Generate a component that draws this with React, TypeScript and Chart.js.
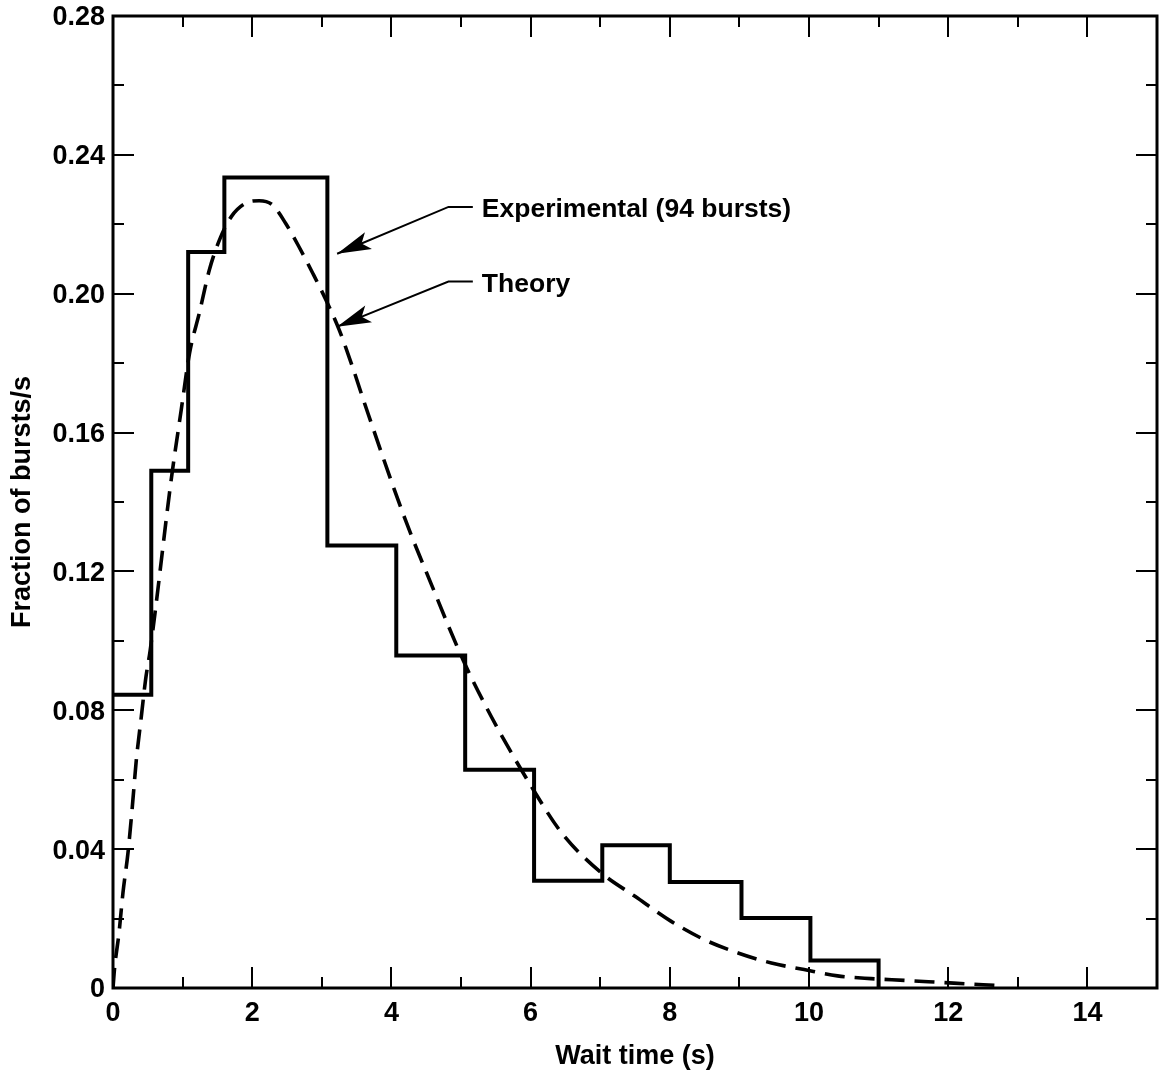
import React, { useEffect, useRef } from "react";
import { Chart, registerables } from "chart.js";

Chart.register(...registerables);

// ---- data ----
const histEdges = [0, 0.55, 1.08, 1.6, 3.08, 4.07, 5.06, 6.05, 7.03, 8.0, 9.03, 10.02, 11.0];
const histValues = [0.0845, 0.149, 0.212, 0.2335, 0.1275, 0.0958, 0.0629, 0.0309, 0.0411, 0.0305, 0.0202, 0.0079];

const theoryX = [0, 0.025, 0.086, 0.143, 0.215, 0.278, 0.335, 0.407, 0.468, 0.535, 0.84, 0.98, 1.1, 1.24, 1.385, 1.53, 1.7, 1.91, 2.1, 2.29, 2.48, 2.67, 2.87, 3.06, 3.25, 3.44, 3.63, 4.2, 4.58, 5.03, 5.44, 6.04, 6.45, 7.02, 7.5, 8.02, 8.5, 8.98, 9.46, 9.93, 10.41, 10.89, 11.37, 12.08, 12.75];
const theoryY = [0, 0.0062, 0.0158, 0.0274, 0.0389, 0.0523, 0.0657, 0.0782, 0.0888, 0.0974, 0.147, 0.1665, 0.1829, 0.1944, 0.2069, 0.2155, 0.2222, 0.2261, 0.2268, 0.2256, 0.2203, 0.2136, 0.2059, 0.1982, 0.1896, 0.179, 0.1675, 0.1349, 0.116, 0.0945, 0.078, 0.0571, 0.0446, 0.0331, 0.0264, 0.0192, 0.0139, 0.0101, 0.0072, 0.0053, 0.0035, 0.0027, 0.0022, 0.0014, 0.0007];

const xMin = 0;
const xMax = 15;
const xStep = 2;
const xMinorStep = 1;
const yMin = 0;
const yMax = 0.28;
const yStep = 0.04;
const yMinorStep = 0.02;

const xTitle = "Wait time (s)";
const yTitle = "Fraction of bursts/s";

// annotations: label, leader start (data coords), arrow tip (data coords)
const annLabels = ["Experimental (94 bursts)", "Theory"];
const annLeaderX = [4.82, 4.82];
const annLeaderEndX = [5.17, 5.17];
const annLeaderY = [0.225, 0.2035];
const annTipX = [3.22, 3.22];
const annTipY = [0.2115, 0.1905];

const FONT = "'Liberation Sans', Arial, Helvetica, sans-serif";

const framePlugin = {
  id: "framePlugin",
  afterDraw(chart: any) {
    const { ctx, chartArea } = chart;
    const xs = chart.scales.x;
    const ys = chart.scales.y;
    const { left, right, top, bottom } = chartArea;
    ctx.save();
    ctx.strokeStyle = "#000";
    ctx.lineCap = "butt";
    // ticks
    ctx.lineWidth = 2;
    const major = 21;
    const minor = 11;
    for (let v = xMin + xMinorStep; v < xMax - 1e-9; v += xMinorStep) {
      const px = Math.round(xs.getPixelForValue(v));
      const isMajor = Math.abs(v / xStep - Math.round(v / xStep)) < 1e-6;
      const len = isMajor ? major : minor;
      ctx.beginPath();
      ctx.moveTo(px, bottom);
      ctx.lineTo(px, bottom - len);
      ctx.moveTo(px, top);
      ctx.lineTo(px, top + len);
      ctx.stroke();
    }
    for (let v = yMin + yMinorStep; v < yMax - 1e-9; v += yMinorStep) {
      const py = Math.round(ys.getPixelForValue(v));
      const isMajor = Math.abs(v / yStep - Math.round(v / yStep)) < 1e-6;
      const len = isMajor ? major : minor;
      ctx.beginPath();
      ctx.moveTo(left, py);
      ctx.lineTo(left + len, py);
      ctx.moveTo(right, py);
      ctx.lineTo(right - len, py);
      ctx.stroke();
    }
    // frame
    ctx.lineWidth = 3;
    ctx.strokeRect(left, top, right - left, bottom - top);

    // annotations
    ctx.fillStyle = "#000";
    ctx.lineWidth = 2;
    for (let i = 0; i < annLabels.length; i++) {
      const sx = xs.getPixelForValue(annLeaderX[i]);
      const ex = xs.getPixelForValue(annLeaderEndX[i]);
      const sy = ys.getPixelForValue(annLeaderY[i]);
      const tx = xs.getPixelForValue(annTipX[i]);
      const ty = ys.getPixelForValue(annTipY[i]);
      ctx.beginPath();
      ctx.moveTo(ex, sy);
      ctx.lineTo(sx, sy);
      ctx.lineTo(tx, ty);
      ctx.stroke();
      const ang = Math.atan2(sy - ty, sx - tx);
      const L = 34;
      const W = 9;
      const bx = tx + Math.cos(ang) * L;
      const by = ty + Math.sin(ang) * L;
      const nx = tx + Math.cos(ang) * L * 0.78;
      const ny = ty + Math.sin(ang) * L * 0.78;
      const px = -Math.sin(ang);
      const py = Math.cos(ang);
      ctx.beginPath();
      ctx.moveTo(tx, ty);
      ctx.lineTo(bx + px * W, by + py * W);
      ctx.lineTo(nx, ny);
      ctx.lineTo(bx - px * W, by - py * W);
      ctx.closePath();
      ctx.fill();
      ctx.font = `bold 26.5px ${FONT}`;
      ctx.textAlign = "left";
      ctx.textBaseline = "middle";
      ctx.fillText(annLabels[i], ex + 9, sy + 3);
    }
    ctx.restore();
  },
};

export default function App() {
  const ref = useRef<HTMLCanvasElement | null>(null);
  useEffect(() => {
    if (!ref.current) return;
    const histPoints = histEdges.map((x, i) => ({ x, y: i < histValues.length ? histValues[i] : 0 }));
    const theoryPoints = theoryX.map((x, i) => ({ x, y: theoryY[i] }));
    const chart = new Chart(ref.current, {
      type: "line",
      data: {
        datasets: [
          {
            label: "Experimental",
            data: histPoints,
            stepped: "before",
            borderColor: "#000",
            borderWidth: 4,
            borderJoinStyle: "miter",
            borderCapStyle: "square",
            pointRadius: 0,
            fill: false,
          },
          {
            label: "Theory",
            data: theoryPoints,
            borderColor: "#000",
            borderWidth: 3.6,
            borderDash: [20, 10],
            cubicInterpolationMode: "monotone",
            pointRadius: 0,
            fill: false,
          },
        ],
      },
      options: {
        animation: false,
        responsive: false,
        devicePixelRatio: 1,
        layout: { padding: { top: 16, right: 3, left: 0, bottom: 0 } },
        plugins: { legend: { display: false }, tooltip: { enabled: false } },
        scales: {
          x: {
            type: "linear",
            min: xMin,
            max: xMax,
            grid: { display: false, drawTicks: false },
            border: { display: false },
            ticks: {
              stepSize: xStep,
              includeBounds: false,
              padding: 9,
              color: "#000",
              maxRotation: 0,
              font: { family: FONT, size: 27, weight: "bold" },
              callback: (v: any) => String(v),
            },
            title: {
              display: true,
              text: xTitle,
              color: "#000",
              font: { family: FONT, size: 27, weight: "bold" },
              padding: { top: 0, bottom: -2 },
            },
            afterFit: (s: any) => {
              s.height = 83;
              s.paddingLeft = 0;
              s.paddingRight = 0;
            },
          },
          y: {
            type: "linear",
            min: yMin,
            max: yMax,
            grid: { display: false, drawTicks: false },
            border: { display: false },
            ticks: {
              stepSize: yStep,
              padding: 8,
              labelOffset: 2,
              color: "#000",
              font: { family: FONT, size: 27, weight: "bold" },
              callback: (v: any) => (Math.abs(v) < 1e-9 ? "0" : Number(v).toFixed(2)),
            },
            title: {
              display: true,
              text: yTitle,
              color: "#000",
              font: { family: FONT, size: 27, weight: "bold" },
              padding: { top: 6, bottom: 0 },
            },
            afterFit: (s: any) => {
              s.width = 113;
              s.paddingTop = 0;
              s.paddingBottom = 0;
            },
          },
        },
      },
      plugins: [framePlugin],
    } as any);
    return () => chart.destroy();
  }, []);
  return (
    <div style={{ position: "absolute", left: 0, top: 0, width: 1160, height: 1071, background: "#fff" }}>
      <canvas ref={ref} width={1160} height={1071} style={{ display: "block" }} />
    </div>
  );
}
